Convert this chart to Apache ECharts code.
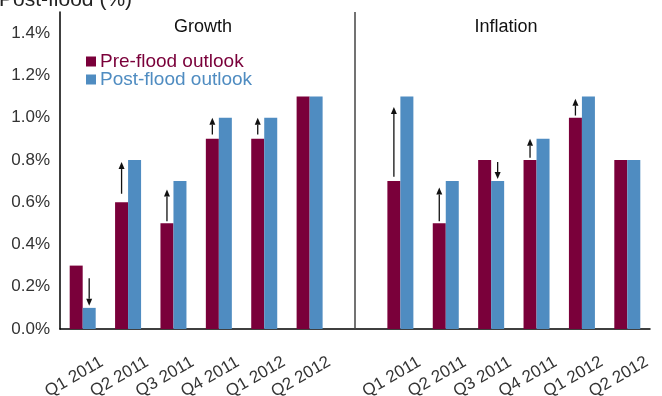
<!DOCTYPE html>
<html>
<head>
<meta charset="utf-8">
<style>
html,body{margin:0;padding:0;background:#fff;}
#chart{width:662px;height:396px;}
</style>
<script src="https://cdn.jsdelivr.net/npm/echarts@6/dist/echarts.min.js"></script>
</head>
<body>
<div id="chart"></div>
<script>
// ---- data ----
const quarters = ['Q1 2011', 'Q2 2011', 'Q3 2011', 'Q4 2011', 'Q1 2012', 'Q2 2012'];
const growthPre = [0.3, 0.6, 0.5, 0.9, 0.9, 1.1];
const growthPost = [0.1, 0.8, 0.7, 1.0, 1.0, 1.1];
const inflationPre = [0.7, 0.5, 0.8, 0.8, 1.0, 0.8];
const inflationPost = [1.1, 0.7, 0.7, 0.9, 1.1, 0.8];
// arrows as drawn (start value -> tip value), null = no arrow
const growthArrowFrom = [0.24, 0.64, 0.51, 0.92, 0.92, null];
const growthArrowTo = [0.11, 0.79, 0.66, 1.0, 1.0, null];
const inflationArrowFrom = [0.72, 0.51, 0.79, 0.81, 1.01, null];
const inflationArrowTo = [1.05, 0.67, 0.71, 0.9, 1.09, null];
const yTicks = [0, 0.2, 0.4, 0.6, 0.8, 1.0, 1.2, 1.4];
const panelTitles = ['Growth', 'Inflation'];
const chartTitle = 'Post-flood (%)';
const seriesNames = ['Pre-flood outlook', 'Post-flood outlook'];

// ---- build ----
const categories = quarters.concat([''], quarters);
const preData = growthPre.concat([null], inflationPre);
const postData = growthPost.concat([null], inflationPost);
const arrowData = [];
growthArrowFrom.forEach((f, i) => { if (f != null) arrowData.push([i, f, growthArrowTo[i]]); });
inflationArrowFrom.forEach((f, i) => { if (f != null) arrowData.push([i + quarters.length + 1, f, inflationArrowTo[i]]); });

const FONT = '"Liberation Sans", Arial, Helvetica, sans-serif';
const MAROON = '#7a003a';
const BLUE = '#4f8cc1';
const BW = 13;

const chart = echarts.init(document.getElementById('chart'), null, {renderer: 'canvas'});
chart.setOption({
  animation: false,
  textStyle: {fontFamily: FONT},
  graphic: [
    {type: 'text', x: -1, y: 11, silent: true,
     style: {text: chartTitle, font: '21px ' + FONT, fill: '#222', align: 'left', verticalAlign: 'bottom'}}
  ],
  title: [
    {text: panelTitles[0], left: 198, top: 13, textAlign: 'center', textStyle: {fontFamily: FONT, fontSize: 18, fontWeight: 'normal', color: '#111'}},
    {text: panelTitles[1], left: 501, top: 13, textAlign: 'center', textStyle: {fontFamily: FONT, fontSize: 18, fontWeight: 'normal', color: '#111'}}
  ],
  legend: {
    orient: 'vertical', left: 81, top: 47, itemWidth: 10, itemHeight: 10, itemGap: -1,
    icon: 'rect',
    textStyle: {fontFamily: FONT, fontSize: 19, padding: [0, 0, 0, -1]},
    data: [
      {name: seriesNames[0], textStyle: {color: MAROON}},
      {name: seriesNames[1], textStyle: {color: BLUE}}
    ]
  },
  grid: {left: 60, right: 12, top: 12, bottom: 67, containLabel: false, outerBoundsMode: 'none'},
  xAxis: {
    type: 'category', data: categories,
    axisTick: {show: false},
    axisLine: {lineStyle: {color: '#000', width: 1.5}},
    axisLabel: {
      interval: 0, rotate: 30, fontSize: 17, color: '#333', fontFamily: FONT,
      align: 'center', verticalAlign: 'middle', margin: 43, padding: [0, 20, 0, 0]
    }
  },
  yAxis: {
    type: 'value', min: 0, max: 1.5, interval: 0.2,
    splitLine: {show: false},
    axisTick: {show: false},
    axisLine: {show: true, lineStyle: {color: '#000', width: 1.5}},
    axisLabel: {
      showMaxLabel: false, fontSize: 17, color: '#333', fontFamily: FONT, margin: 10,
      formatter: v => yTicks.some(t => Math.abs(t - v) < 1e-6) ? v.toFixed(1) + '%' : ''
    }
  },
  series: [
    {name: seriesNames[0], type: 'bar', data: preData, barWidth: BW, barGap: '0%', itemStyle: {color: MAROON}},
    {name: seriesNames[1], type: 'bar', data: postData, barWidth: BW, barGap: '0%', itemStyle: {color: BLUE}},
    {
      type: 'custom', data: arrowData, z: 5,
      markLine: {
        silent: true, symbol: 'none', label: {show: false},
        lineStyle: {color: '#444', width: 1.5, type: 'solid'},
        data: [{xAxis: quarters.length}]
      },
      renderItem: function (params, api) {
        const idx = api.value(0), from = api.value(1), to = api.value(2);
        const up = to > from;
        const p0 = api.coord([idx, from]);
        const p1 = api.coord([idx, to]);
        const x = p0[0] + (up ? -BW / 2 : BW / 2);
        const headH = 7, headW = 3;
        const yBase = up ? p1[1] + headH : p1[1] - headH;
        return {
          type: 'group',
          children: [
            {type: 'line', shape: {x1: x, y1: p0[1], x2: x, y2: yBase}, style: {stroke: '#111', lineWidth: 1.3}},
            {type: 'polygon', shape: {points: [[x - headW, yBase], [x + headW, yBase], [x, p1[1]]]}, style: {fill: '#111'}}
          ]
        };
      }
    }
  ]
});
</script>
</body>
</html>
